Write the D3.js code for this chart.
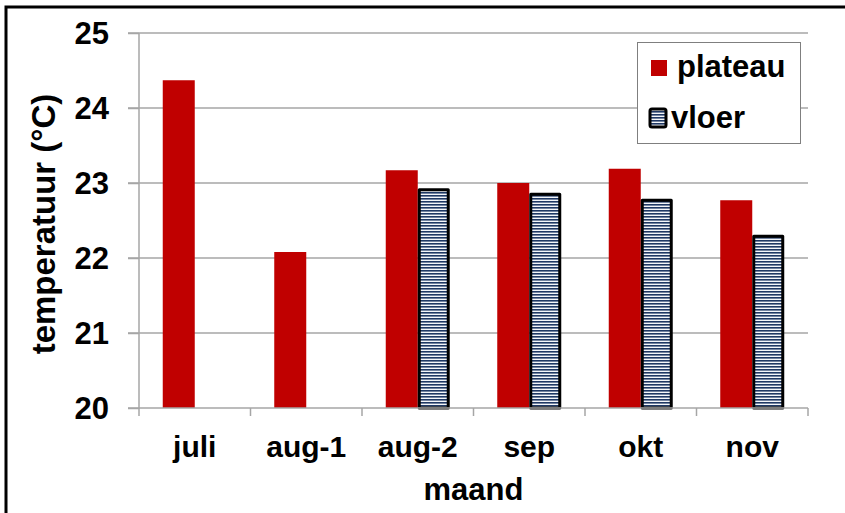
<!DOCTYPE html>
<meta charset="utf-8">
<style>
  body { margin: 0; background: #fff; }
  text { font-family: "Liberation Sans", Arial, sans-serif; font-weight: bold; fill: #000; }
</style>
<div id="chart"></div>
<script src="https://cdn.jsdelivr.net/npm/d3@7"></script>
<script>
    // data
    const months  = ["juli", "aug-1", "aug-2", "sep", "okt", "nov"];
    const plateau = [24.37, 22.08, 23.17, 23.00, 23.19, 22.77];
    const vloer   = [null, null, 22.93, 22.87, 22.79, 22.31];
    const yTicks  = [20, 21, 22, 23, 24, 25];

    const width = 845, height = 513;
    const margin = {left: 139, right: 37, top: 33, bottom: 105};

    const svg = d3.select("#chart").append("svg")
                  .attr("width", width)
                  .attr("height", height);

    const defs = svg.append("defs");
    const pat = defs.append("pattern")
                    .attr("id", "stripes")
                    .attr("patternUnits", "userSpaceOnUse")
                    .attr("width", 6).attr("height", 3);
    pat.append("rect").attr("width", 6).attr("height", 3).attr("fill", "#f4f6f9");
    pat.append("rect").attr("width", 6).attr("height", 1.6).attr("fill", "#1f3864");

    // outer frame
    svg.append("rect")
       .attr("x", 6).attr("y", 7)
       .attr("width", 860).attr("height", 530)
       .attr("fill", "none").attr("stroke", "#000").attr("stroke-width", 3);

    const x = d3.scaleBand()
                .domain(months)
                .range([margin.left, width - margin.right]);

    const y = d3.scaleLinear()
                .domain([20, 25])
                .range([height - margin.bottom, margin.top]);

    const bw = x.bandwidth() * 0.287;

    // grid
    svg.append("g")
       .selectAll("line")
       .data(yTicks.slice(1))
       .join("line")
       .attr("x1", margin.left - 11).attr("x2", width - margin.right)
       .attr("y1", d => y(d)).attr("y2", d => y(d))
       .attr("stroke", "#a6a6a6").attr("stroke-width", 1.5);

    // y axis
    const yAxis = svg.append("g")
       .attr("transform", `translate(${margin.left},0)`)
       .call(d3.axisLeft(y).tickValues(yTicks).tickSize(11).tickFormat(d3.format("d")));
    yAxis.selectAll("line, path").attr("stroke", "#a6a6a6").attr("stroke-width", 1.5);
    yAxis.select(".domain").attr("d", `M-11,${y(20)}H0V${y(25)}`);
    yAxis.selectAll("text")
         .attr("x", -30)
         .attr("dy", "0.35em")
         .style("font-size", "31px")
         .style("font-family", "Liberation Sans, Arial, sans-serif")
         .style("font-weight", "bold")
         .attr("fill", "#000");

    // bars
    svg.append("g")
       .selectAll("rect")
       .data(months)
       .join("rect")
       .attr("x", d => x(d) + x.bandwidth() / 2 - bw)
       .attr("y", (d, i) => y(plateau[i]))
       .attr("width", bw)
       .attr("height", (d, i) => y(20) - y(plateau[i]))
       .attr("fill", "#c00000");

    const vdata = months.map((m, i) => ({m, v: vloer[i]})).filter(d => d.v != null);
    svg.append("g")
       .selectAll("rect")
       .data(vdata)
       .join("rect")
       .attr("x", d => x(d.m) + x.bandwidth() / 2 + 1.5)
       .attr("y", d => y(d.v) + 1.5)
       .attr("width", bw - 3)
       .attr("height", d => y(20) - y(d.v) - 1.5)
       .attr("fill", "url(#stripes)")
       .attr("stroke", "#000").attr("stroke-width", 3)
       .attr("stroke-linejoin", "round");

    // x axis
    const xAxis = svg.append("g")
       .attr("transform", `translate(0,${y(20)})`)
       .call(d3.axisBottom(x).tickSize(0).tickPadding(30));
    xAxis.select(".domain").attr("stroke", "#a6a6a6").attr("stroke-width", 1.5)
         .attr("d", `M${margin.left},0H${width - margin.right}`);
    xAxis.selectAll("g.tick line").remove();
    xAxis.selectAll("text")
         .attr("y", 49).attr("dy", 0)
         .style("font-size", "30px")
         .style("font-family", "Liberation Sans, Arial, sans-serif")
         .style("font-weight", "bold")
         .attr("fill", "#000");
    const edges = months.map(m => x(m)).concat([width - margin.right]);
    svg.append("g")
       .selectAll("line")
       .data(edges)
       .join("line")
       .attr("x1", d => d).attr("x2", d => d)
       .attr("y1", y(20)).attr("y2", y(20) + 8)
       .attr("stroke", "#a6a6a6").attr("stroke-width", 1.5);

    // axis titles
    svg.append("text")
       .attr("x", (margin.left + width - margin.right) / 2)
       .attr("y", 500)
       .attr("text-anchor", "middle")
       .style("font-size", "31px")
       .text("maand");

    svg.append("text")
       .attr("transform", `translate(55,${224}) rotate(-90)`)
       .attr("text-anchor", "middle")
       .style("font-size", "33px")
       .text("temperatuur (°C)");

    // legend
    const lg = svg.append("g");
    lg.append("rect")
      .attr("x", 637.5).attr("y", 42.5).attr("width", 163).attr("height", 101)
      .attr("fill", "#fff").attr("stroke", "#7f7f7f").attr("stroke-width", 1);
    lg.append("rect")
      .attr("x", 651).attr("y", 60).attr("width", 16).attr("height", 16)
      .attr("fill", "#c00000");
    lg.append("text").attr("x", 677).attr("y", 77).style("font-size", "31px").text("plateau");
    lg.append("rect")
      .attr("x", 650).attr("y", 109).attr("width", 16).attr("height", 18)
      .attr("rx", 2)
      .attr("fill", "url(#stripes)").attr("stroke", "#000").attr("stroke-width", 3);
    lg.append("text").attr("x", 671).attr("y", 128).style("font-size", "31px").text("vloer");
</script>
